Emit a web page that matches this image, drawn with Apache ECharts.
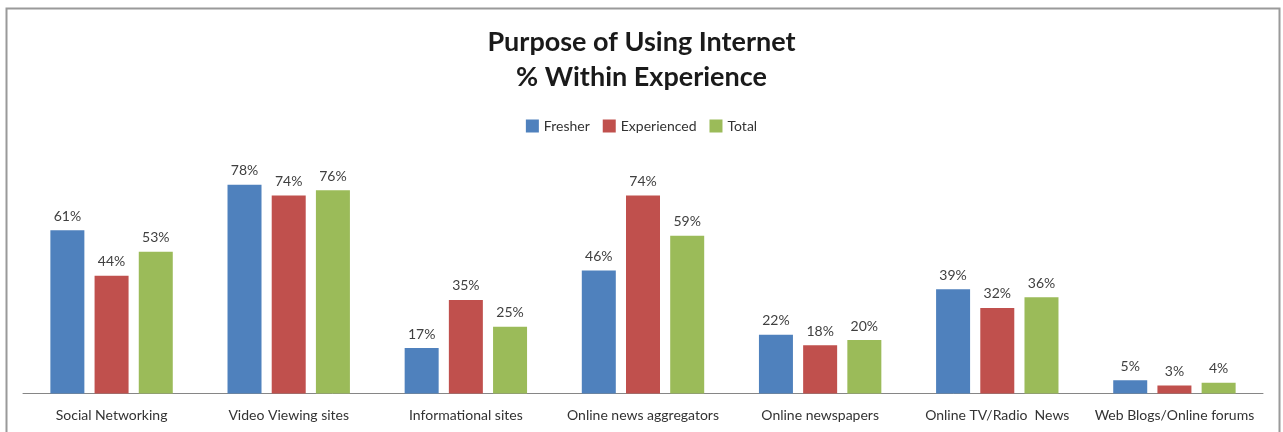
<!DOCTYPE html>
<html>
<head>
<meta charset="utf-8">
<script src="https://cdn.jsdelivr.net/npm/echarts@6/dist/echarts.min.js"></script>
<style>
  html, body { margin: 0; padding: 0; background: #fff; }
  #chart { width: 1283px; height: 432px; }
</style>
</head>
<body>
<div id="chart"></div>
<script>
// Internet usage purposes by experience level (%)
const categories = [
  'Social Networking',
  'Video Viewing sites',
  'Informational sites',
  'Online news aggregators',
  'Online newspapers',
  'Online TV/Radio  News',
  'Web Blogs/Online forums'
];
const fresher = [61, 78, 17, 46, 22, 39, 5];
const experienced = [44, 74, 35, 74, 18, 32, 3];
const total = [53, 76, 25, 59, 20, 36, 4];
const seriesNames = ['Fresher', 'Experienced', 'Total'];
const seriesColors = ['#4F81BD', '#C0504D', '#9BBB59'];

const FONT = 'Lato, "Open Sans", sans-serif';

const chart = echarts.init(document.getElementById('chart'));

function barSeries(name, data, color) {
  return {
    name: name,
    type: 'bar',
    data: data,
    barWidth: 34,
    barGap: '30%',
    itemStyle: { color: color },
    label: {
      show: true,
      position: 'top',
      distance: 7,
      formatter: '{c}%',
      color: '#404040',
      fontFamily: FONT,
      fontSize: 14
    }
  };
}

chart.setOption({
  animation: false,
  backgroundColor: '#fff',
  title: {
    text: 'Purpose of Using Internet\n% Within Experience',
    left: 'center',
    top: 20,
    textStyle: {
      fontFamily: FONT,
      fontSize: 27,
      fontWeight: 'bold',
      color: '#1a1a1a',
      lineHeight: 35
    }
  },
  legend: {
    data: seriesNames,
    top: 114,
    left: 'center',
    itemWidth: 13,
    itemHeight: 13,
    itemGap: 13,
    icon: 'rect',
    textStyle: { fontFamily: FONT, fontSize: 14, color: '#333' }
  },
  grid: { left: 23, right: 20, top: 126, bottom: 38.5, containLabel: false },
  xAxis: {
    type: 'category',
    data: categories,
    axisLine: { lineStyle: { color: '#868686', width: 1 } },
    axisTick: { show: false },
    axisLabel: {
      interval: 0,
      margin: 15,
      fontFamily: FONT,
      fontSize: 14,
      color: '#333'
    }
  },
  yAxis: {
    type: 'value',
    min: 0,
    max: 100,
    show: false
  },
  graphic: [{
    type: 'rect',
    shape: { x: 6.5, y: 8.5, width: 1273, height: 440 },
    style: { fill: 'none', stroke: '#9a9a9a', lineWidth: 2 },
    silent: true
  }],
  series: [
    barSeries(seriesNames[0], fresher, seriesColors[0]),
    barSeries(seriesNames[1], experienced, seriesColors[1]),
    barSeries(seriesNames[2], total, seriesColors[2])
  ]
});
</script>
</body>
</html>
